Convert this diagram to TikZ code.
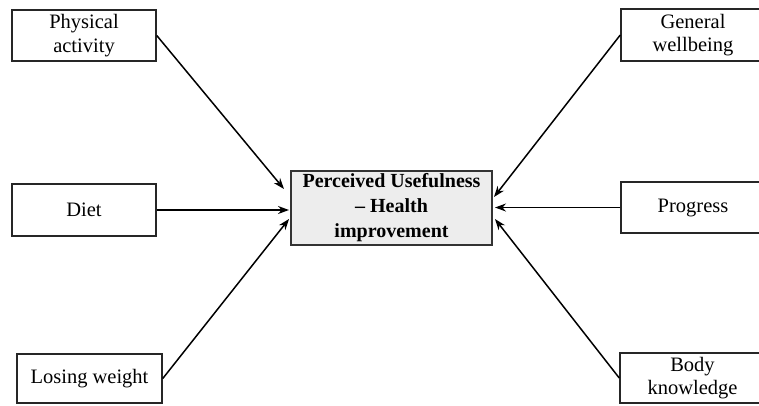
\documentclass[tikz,border=0pt]{standalone}
\usepackage{fontspec}
\setmainfont{Liberation Serif}
\usetikzlibrary{arrows.meta}
\begin{document}
\begin{tikzpicture}[x=1pt,y=-1pt,
  box/.style={draw=black!85,line width=1.5pt,fill=white,inner sep=0pt,align=center,
    font=\fontsize{20.5}{23.5}\selectfont},
  mainbox/.style={draw=black!80,line width=2pt,fill=black!7,inner sep=0pt,align=center,
    font=\fontsize{20}{25}\selectfont\bfseries,minimum width=201pt,minimum height=74pt},
  arr/.style={line width=1.5pt,-{Stealth[length=11pt,width=8pt]}}]
\useasboundingbox (0,0) rectangle (759,405);
\clip (0,0) rectangle (759,405);
\node[box,minimum width=144pt,minimum height=51pt] (phys) at (84,35.5) {Physical\\activity};
\node[box,minimum width=144pt,minimum height=52pt] (diet) at (84,210) {Diet};
\node[box,minimum width=145pt,minimum height=49pt] (lose) at (89.5,378.5) {Losing weight};
\node[box,minimum width=144pt,minimum height=52pt] (gen) at (693,35) {General\\wellbeing};
\node[box,minimum width=144pt,minimum height=51pt] (prog) at (693,207.5) {Progress};
\node[box,minimum width=145pt,minimum height=50pt] (body) at (692.5,378) {Body\\knowledge};
\node[mainbox] (pu) at (391.5,208) {Perceived Usefulness\\– Health\\improvement};
\draw[arr] (phys.east) -- ([shift={(-6,-19)}]pu.west);
\draw[arr] (diet.east) -- ([shift={(-1,2)}]pu.west);
\draw[arr] (lose.east) -- ([shift={(-1,11)}]pu.west);
\draw[arr] (gen.west) -- ([shift={(1,-11)}]pu.east);
\draw[arr] (prog.west) -- ([shift={(2,-0.5)}]pu.east);
\draw[arr] (body.west) -- ([shift={(2,11)}]pu.east);
\end{tikzpicture}
\end{document}
